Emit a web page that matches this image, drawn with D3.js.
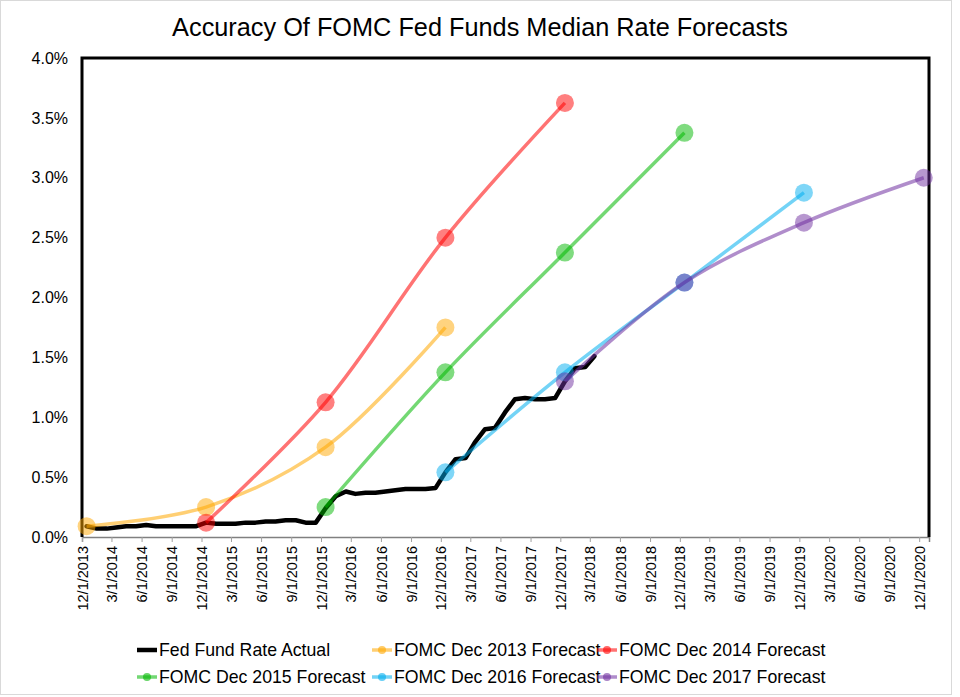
<!DOCTYPE html>
<html>
<head>
<meta charset="utf-8">
<script src="https://cdn.jsdelivr.net/npm/d3@7/dist/d3.min.js"></script>
<style>
  html, body { margin: 0; padding: 0; background: #ffffff; }
  svg { display: block; font-family: "Liberation Sans", Arial, sans-serif; }
</style>
</head>
<body>
<svg id="chart" width="960" height="697"></svg>
<script>
// ---------------- DATA ----------------
const titleText = "Accuracy Of FOMC Fed Funds Median Rate Forecasts";

const xTickLabels = [
  "12/1/2013","3/1/2014","6/1/2014","9/1/2014","12/1/2014","3/1/2015","6/1/2015","9/1/2015",
  "12/1/2015","3/1/2016","6/1/2016","9/1/2016","12/1/2016","3/1/2017","6/1/2017","9/1/2017",
  "12/1/2017","3/1/2018","6/1/2018","9/1/2018","12/1/2018","3/1/2019","6/1/2019","9/1/2019",
  "12/1/2019","3/1/2020","6/1/2020","9/1/2020","12/1/2020"
];
const yTicks = [0, 0.5, 1.0, 1.5, 2.0, 2.5, 3.0, 3.5, 4.0];
const xDomain = ["12/1/2013", "12/31/2020"];

// Actual effective fed funds rate (monthly)
const actualDates = [
  "12/15/2013",
  "1/15/2014","2/15/2014","3/15/2014","4/15/2014","5/15/2014","6/15/2014","7/15/2014","8/15/2014","9/15/2014","10/15/2014","11/15/2014","12/15/2014",
  "1/15/2015","2/15/2015","3/15/2015","4/15/2015","5/15/2015","6/15/2015","7/15/2015","8/15/2015","9/15/2015","10/15/2015","11/15/2015","12/15/2015",
  "1/15/2016","2/15/2016","3/15/2016","4/15/2016","5/15/2016","6/15/2016","7/15/2016","8/15/2016","9/15/2016","10/15/2016","11/15/2016","12/15/2016",
  "1/15/2017","2/15/2017","3/15/2017","4/15/2017","5/15/2017","6/15/2017","7/15/2017","8/15/2017","9/15/2017","10/15/2017","11/15/2017","12/15/2017",
  "1/15/2018","2/15/2018","3/15/2018"
];
const actualValues = [
  0.09,
  0.07,0.07,0.08,0.09,0.09,0.10,0.09,0.09,0.09,0.09,0.09,0.12,
  0.11,0.11,0.11,0.12,0.12,0.13,0.13,0.14,0.14,0.12,0.12,0.24,
  0.34,0.38,0.36,0.37,0.37,0.38,0.39,0.40,0.40,0.40,0.41,0.54,
  0.65,0.66,0.79,0.90,0.91,1.04,1.15,1.16,1.15,1.15,1.16,1.30,
  1.41,1.42,1.51
];

// FOMC median projections
const fc2013Dates = ["12/15/2013","12/15/2014","12/15/2015","12/15/2016"];
const fc2013Values = [0.09, 0.25, 0.75, 1.75];
const fc2014Dates = ["12/15/2014","12/15/2015","12/15/2016","12/15/2017"];
const fc2014Values = [0.12, 1.125, 2.5, 3.625];
const fc2015Dates = ["12/15/2015","12/15/2016","12/15/2017","12/15/2018"];
const fc2015Values = [0.25, 1.375, 2.375, 3.375];
const fc2016Dates = ["12/15/2016","12/15/2017","12/15/2018","12/15/2019"];
const fc2016Values = [0.54, 1.375, 2.125, 2.875];
const fc2017Dates = ["12/15/2017","12/15/2018","12/15/2019","12/15/2020"];
const fc2017Values = [1.30, 2.125, 2.625, 3.0];

const seriesNames = [
  "Fed Fund Rate Actual",
  "FOMC Dec 2013 Forecast",
  "FOMC Dec 2014 Forecast",
  "FOMC Dec 2015 Forecast",
  "FOMC Dec 2016 Forecast",
  "FOMC Dec 2017 Forecast"
];

// ---------------- STYLE ----------------
const colors = ["#000000", "#FFA800", "#FF0000", "#00B800", "#00AEEF", "#7030A0"];
const plot = { left: 82, right: 929, top: 58, bottom: 537 };

const parse = d3.timeParse("%m/%d/%Y");
const svg = d3.select("#chart");

// outer chart border
svg.append("rect").attr("x", 0.5).attr("y", 0.5).attr("width", 951).attr("height", 694)
  .attr("fill", "#ffffff").attr("stroke", "#d9d9d9").attr("stroke-width", 1);

const x = d3.scaleTime().domain(xDomain.map(parse)).range([plot.left, plot.right]);
const y = d3.scaleLinear().domain([0, 4]).range([plot.bottom, plot.top]);

// title
svg.append("text").attr("x", 480).attr("y", 36).attr("text-anchor", "middle")
  .attr("font-size", 25.3).attr("fill", "#000").text(titleText);

// y axis labels
const yAxis = d3.axisLeft(y).tickValues(yTicks).tickSize(0).tickPadding(14)
  .tickFormat(d => d3.format(".1f")(d) + "%");
const gy = svg.append("g").attr("transform", `translate(${plot.left},0)`).call(yAxis);
gy.select(".domain").remove();
gy.selectAll("text").attr("font-size", 16).attr("font-family", "Liberation Sans, Arial, sans-serif").attr("fill", "#000");

// x axis
const xTickDates = xTickLabels.map(parse);
const xAxis = d3.axisBottom(x).tickValues(xTickDates).tickSize(5).tickFormat((d, i) => xTickLabels[i]);
const gx = svg.append("g").attr("transform", `translate(0,${plot.bottom})`).call(xAxis);
gx.select(".domain").attr("stroke", "#808080").attr("stroke-width", 1.5);
gx.selectAll(".tick line").attr("stroke", "#a0a0a0");
gx.selectAll(".tick text")
  .attr("font-size", 14.5).attr("font-family", "Liberation Sans, Arial, sans-serif").attr("fill", "#000")
  .attr("transform", "rotate(-90)")
  .attr("text-anchor", "end")
  .attr("x", -9).attr("y", 0).attr("dy", "0.35em");

// plot border (left, top, right)
svg.append("path")
  .attr("d", `M${plot.left},${plot.bottom} V${plot.top} H${plot.right} V${plot.bottom}`)
  .attr("fill", "none").attr("stroke", "#000").attr("stroke-width", 3);

// actual line
const actual = actualDates.map((d, i) => ({ date: parse(d), v: actualValues[i] }));
const lineStraight = d3.line().x(d => x(d.date)).y(d => y(d.v));
svg.append("path").datum(actual).attr("d", lineStraight)
  .attr("fill", "none").attr("stroke", colors[0]).attr("stroke-width", 4.5)
  .attr("stroke-linejoin", "round").attr("stroke-linecap", "round");

// forecasts
const forecasts = [
  [fc2013Dates, fc2013Values],
  [fc2014Dates, fc2014Values],
  [fc2015Dates, fc2015Values],
  [fc2016Dates, fc2016Values],
  [fc2017Dates, fc2017Values]
];
const lineSmooth = d3.line().x(d => x(d.date)).y(d => y(d.v)).curve(d3.curveCatmullRom.alpha(0.5));
forecasts.forEach((f, k) => {
  const pts = f[0].map((d, i) => ({ date: parse(d), v: f[1][i] }));
  const c = colors[k + 1];
  const g = svg.append("g");
  g.append("path").datum(pts).attr("d", lineSmooth)
    .attr("fill", "none").attr("stroke", c).attr("stroke-opacity", 0.55).attr("stroke-width", 3.5);
  g.selectAll("circle").data(pts).enter().append("circle")
    .attr("cx", d => x(d.date)).attr("cy", d => y(d.v)).attr("r", 9)
    .attr("fill", c).attr("fill-opacity", 0.5);
});

// legend
const legCols = [137, 372, 597];
const legRows = [650, 677];
seriesNames.forEach((name, i) => {
  const col = legCols[i % 3], row = legRows[Math.floor(i / 3)];
  const g = svg.append("g");
  g.append("line").attr("x1", col).attr("x2", col + 20).attr("y1", row).attr("y2", row)
    .attr("stroke", colors[i]).attr("stroke-width", i === 0 ? 4.5 : 3.5)
    .attr("stroke-opacity", i === 0 ? 1 : 0.55);
  if (i > 0) {
    g.append("circle").attr("cx", col + 10).attr("cy", row).attr("r", 4)
      .attr("fill", colors[i]).attr("fill-opacity", 0.6);
  }
  g.append("text").attr("x", col + 22).attr("y", row).attr("dy", "0.35em")
    .attr("font-size", 17.7).attr("fill", "#000").text(name);
});
</script>
</body>
</html>
